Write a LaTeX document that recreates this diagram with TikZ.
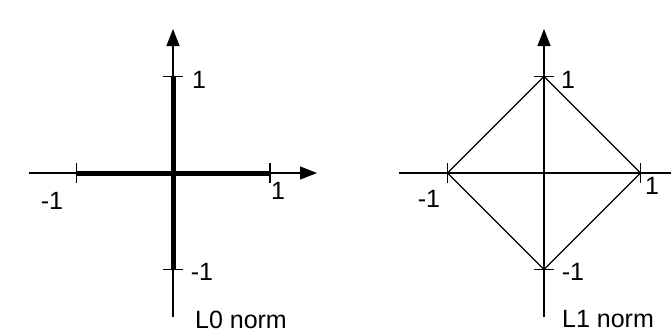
\documentclass[tikz,border=0pt]{standalone}
\usepackage{fontspec}
\setmainfont{Liberation Sans}
\usetikzlibrary{arrows.meta,calc}
\begin{document}
\begin{tikzpicture}[x=1pt,y=-1pt,
  axis/.style={line width=1.3pt,-{Triangle[length=17pt,width=13pt]}},
  tickmark/.style={line width=1.3pt},
  thickbar/.style={line width=5pt},
  edge/.style={line width=1.3pt,line join=miter},
  lbl/.style={inner sep=0pt,font=\fontsize{25}{30}\selectfont}]
\useasboundingbox (0,0) rectangle (671,333);
\clip (0,0) rectangle (671,333);
% ---------- left panel (L0) ----------
\coordinate (O1) at (173,173);
\coordinate (xl1) at (29,173);
\coordinate (xr1) at (317,173);
\coordinate (yt1) at (173,29);
\coordinate (yb1) at (173,317);
\coordinate (px1) at (270,173);
\coordinate (nx1) at (76.5,173);
\coordinate (py1) at (173,76.5);
\coordinate (ny1) at (173,269.5);
\draw[thickbar] (nx1) -- (px1);
\draw[thickbar] (py1) -- (ny1);
\draw[axis] (xl1) -- (xr1);
\draw[axis] (yb1) -- (yt1);
\draw[tickmark] ($(px1)+(0,-10)$) -- ($(px1)+(0,10)$);
\draw[tickmark] ($(nx1)+(0,-10)$) -- ($(nx1)+(0,10)$);
\draw[tickmark] ($(py1)+(-10,0)$) -- ($(py1)+(10,0)$);
\draw[tickmark] ($(ny1)+(-10,0)$) -- ($(ny1)+(10,0)$);
\node[lbl] (l1a) at (199,79.5) {1};
\node[lbl] (l1b) at (202,271.5) {-1};
\node[lbl] (l1c) at (52,200.5) {-1};
\node[lbl] (l1d) at (278,190.5) {1};
\node[lbl] (l1e) at (241,319.5) {L0 norm};
% ---------- right panel (L1) ----------
\coordinate (O2) at (544,173);
\coordinate (xl2) at (399,173);
\coordinate (xr2) at (688,173);
\coordinate (yt2) at (544,29);
\coordinate (yb2) at (544,317);
\coordinate (px2) at (640.5,173);
\coordinate (nx2) at (447.5,173);
\coordinate (py2) at (544,76.5);
\coordinate (ny2) at (544,269.5);
\draw[axis] (xl2) -- (xr2);
\draw[axis] (yb2) -- (yt2);
\draw[edge] (px2) -- (py2) -- (nx2) -- (ny2) -- cycle;
\draw[tickmark] ($(px2)+(0,-10)$) -- ($(px2)+(0,10)$);
\draw[tickmark] ($(nx2)+(0,-10)$) -- ($(nx2)+(0,10)$);
\draw[tickmark] ($(py2)+(-10,0)$) -- ($(py2)+(10,0)$);
\draw[tickmark] ($(ny2)+(-10,0)$) -- ($(ny2)+(10,0)$);
\node[lbl] (l2a) at (568,79.5) {1};
\node[lbl] (l2b) at (573,271.5) {-1};
\node[lbl] (l2c) at (429,198.5) {-1};
\node[lbl] (l2d) at (652,185.5) {1};
\node[lbl] (l2e) at (608,319.5) {L1 norm};
\end{tikzpicture}
\end{document}
